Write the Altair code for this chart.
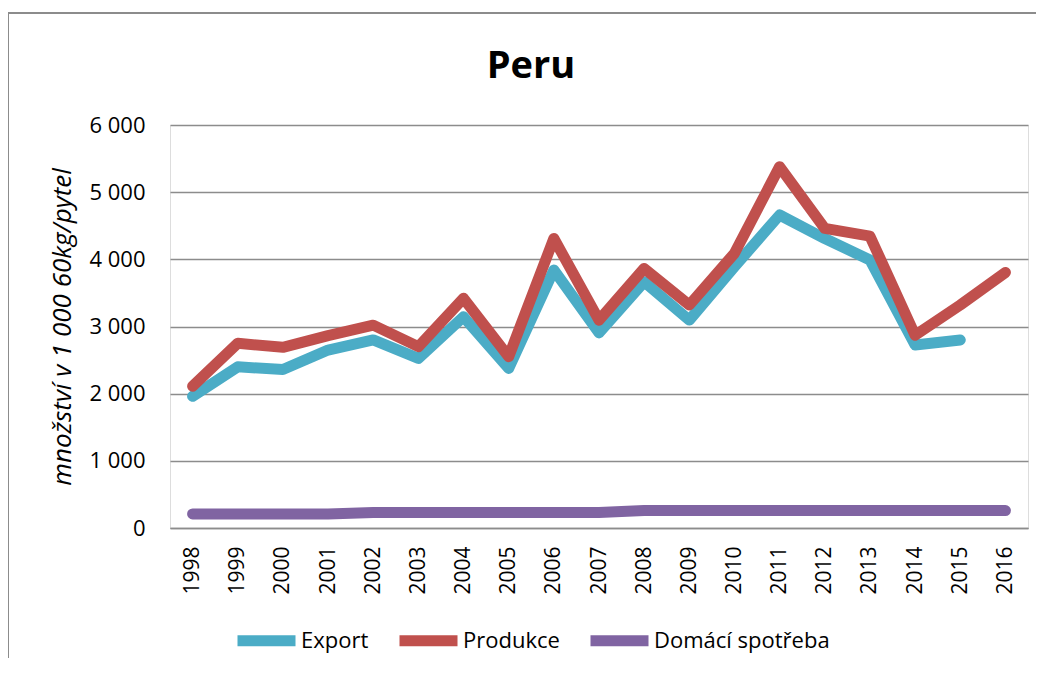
import altair as alt
import pandas as pd

years = [str(y) for y in range(1998, 2017)]
export = [1960, 2400, 2360, 2650, 2800, 2525, 3145, 2375, 3840, 2905, 3665, 3095,
          3890, 4660, 4310, 3990, 2725, 2800, None]
produkce = [2110, 2750, 2690, 2865, 3020, 2700, 3420, 2550, 4310, 3095, 3865, 3320,
            4090, 5380, 4460, 4345, 2870, 3320, 3805]
domaci = [210, 210, 210, 210, 230, 230, 230, 230, 230, 230, 260, 260,
          260, 260, 260, 260, 260, 260, 260]

series_names = ["Export", "Produkce", "Domácí spotřeba"]
series_colors = ["#4BACC6", "#C0504D", "#8064A2"]
y_ticks = [0, 1000, 2000, 3000, 4000, 5000, 6000]

rows = []
for name, vals in zip(series_names, [export, produkce, domaci]):
    for yr, v in zip(years, vals):
        if v is not None:
            rows.append({"rok": yr, "hodnota": v, "serie": name})
df = pd.DataFrame(rows)

FONT = "Open Sans"
W, H = 858, 403

lines = alt.Chart(df).mark_line(
    strokeWidth=11, strokeCap="round", strokeJoin="round"
).encode(
    x=alt.X("rok:O", sort=years, title=None,
            scale=alt.Scale(type="point", padding=0.5),
            axis=alt.Axis(labelAngle=270, labelPadding=18, ticks=False, tickSize=0,
                          labelFontSize=21, labelFont=FONT, labelColor="black",
                          domainColor="#8c8c8c", domainWidth=1.5, grid=False)),
    y=alt.Y("hodnota:Q", title="množství v 1 000 60kg/pytel",
            scale=alt.Scale(domain=[0, 6000], nice=False),
            axis=alt.Axis(values=y_ticks, ticks=False, tickSize=0, labelPadding=25,
                          labelExpr="replace(format(datum.value, ','), ',', ' ')",
                          labelFontSize=22, labelFont=FONT, labelColor="black",
                          domain=False, grid=True, gridColor="#8c8c8c", gridWidth=1.5,
                          titleFont=FONT, titleFontSize=26, titleFontStyle="italic",
                          titleFontWeight="normal", titleColor="black",
                          titleAngle=270, titleX=-108, titleY=H / 2,
                          titleAlign="center", titleBaseline="middle")),
    color=alt.Color("serie:N", title=None,
                    scale=alt.Scale(domain=series_names, range=series_colors),
                    legend=alt.Legend(orient="none", legendX=62, legendY=481,
                                      direction="horizontal", symbolType="stroke",
                                      symbolStrokeWidth=11, symbolSize=3364,
                                      labelFont=FONT, labelFontSize=22,
                                      labelColor="black", labelOffset=0,
                                      labelLimit=400,
                                      columnPadding=8, padding=0)),
)

frame_left = alt.Chart(df).mark_rule(color="#8c8c8c", strokeWidth=1.5).encode(
    x=alt.value(-162), y=alt.value(-112), y2=alt.value(H + 140)
)
frame_top = alt.Chart(df).mark_rule(color="#8c8c8c", strokeWidth=1.5).encode(
    x=alt.value(-162), x2=alt.value(W + 8), y=alt.value(-112)
)

chart = alt.layer(frame_left, frame_top, lines).properties(
    width=W, height=H,
    autosize=alt.AutoSizeParams(type="none"),
    padding={"left": 162, "top": 117, "right": 8, "bottom": 130},
    title=alt.TitleParams("Peru", font=FONT, fontSize=38, fontWeight="bold",
                          color="black", anchor="middle", frame="group",
                          dx=-68, dy=104, offset=0, baseline="alphabetic"),
).configure_view(stroke=None).configure(background="white")

chart.save("out.html", embed_options={"renderer": "svg", "actions": False})
